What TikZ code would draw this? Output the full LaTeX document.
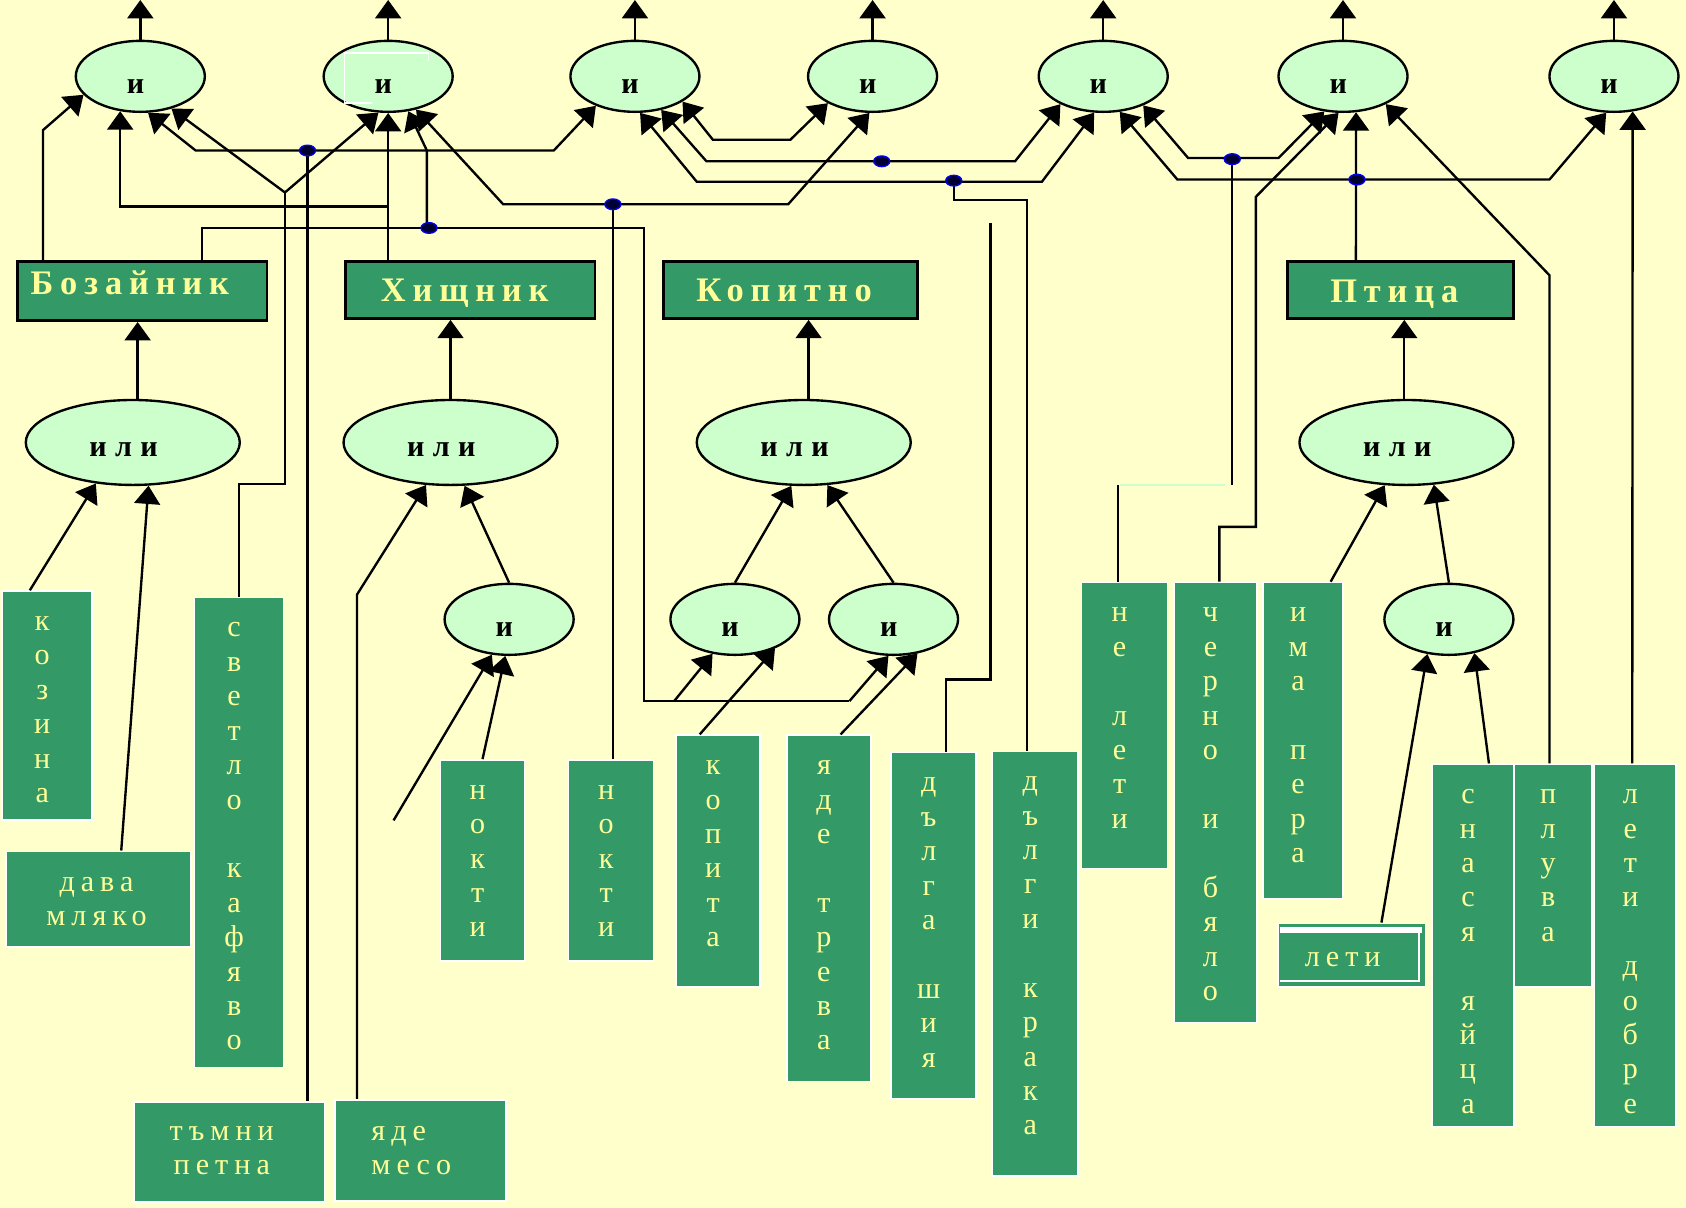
\documentclass[tikz,border=0pt]{standalone}
\usepackage{fontspec}
\setmainfont{Liberation Serif}
\newfontfamily\lsfam[LetterSpace=20]{Liberation Serif}
\newfontfamily\gsfam[LetterSpace=28]{Liberation Serif}
\usetikzlibrary{arrows.meta,shapes.geometric}
\definecolor{bgyellow}{HTML}{FFFFCC}
\definecolor{gatefill}{HTML}{CCFFCC}
\definecolor{boxgreen}{HTML}{339966}
\definecolor{txtyellow}{HTML}{FFFF99}
\definecolor{dotfill}{HTML}{000033}
\newcommand\mgF{\bfseries\fontsize{28}{32}\selectfont}
\newcommand\mgS{\gsfam\bfseries\fontsize{28}{32}\selectfont}
\newcommand\mcF{\lsfam\bfseries\fontsize{32}{38}\selectfont}
\newcommand\mlF{\fontsize{28}{32}\selectfont}
\newcommand\mlS{\lsfam\fontsize{28}{32}\selectfont}
\newcommand\mkbox[6]{\pgfmathsetmacro\mkbw{#5-#3}\pgfmathsetmacro\mkbh{#6-#4}%
  \node[#1, anchor=north west, minimum width=\mkbw pt, minimum height=\mkbh pt] (#2) at (#3,#4) {};}
\newcommand\mkvt[3]{\node[vtxt, anchor=north] (#2) at ([xshift=-4.5pt,yshift=-14.8pt]#1.north) {#3};}
\tikzset{
 conn/.style={line width=2.2pt, draw=black},
 arr/.style={conn, -{Triangle[length=17pt,width=24pt]}},
 barr/.style={conn, {Triangle[length=17pt,width=24pt]}-{Triangle[length=17pt,width=24pt]}},
 gate/.style={ellipse, draw=black, line width=2.2pt, fill=gatefill, inner sep=0pt},
 andgate/.style={gate, minimum width=120pt, minimum height=66pt},
 orgate/.style={gate, minimum width=199pt, minimum height=79pt},
 catbox/.style={rectangle, draw=black, line width=2.5pt, fill=boxgreen, inner sep=0pt},
 leafbox/.style={rectangle, draw=white, line width=1.5pt, fill=boxgreen, inner sep=0pt},
 andtxt/.style={font=\mgF, text=black, anchor=base, inner sep=0pt},
 ortxt/.style={font=\mgS, text=black, anchor=base, inner sep=0pt},
 cattxt/.style={font=\mcF, text=txtyellow, anchor=base, inner sep=0pt},
 vtxt/.style={font=\mlF, text=txtyellow, align=center, inner sep=0pt},
 htxt/.style={font=\mlS, text=txtyellow, inner sep=0pt},
 jdot/.style={ellipse, draw=blue, line width=1.2pt, fill=dotfill, minimum width=15pt, minimum height=10pt, inner sep=0pt},
}
\begin{document}
\begin{tikzpicture}[x=1pt,y=-1pt]
\fill[bgyellow] (0,0) rectangle (1568,1123);
\useasboundingbox (0,0) rectangle (1568,1123);

% ---------- gates ----------
\node[andgate] (e1) at (130.5,71) {};
\node[andgate] (e2) at (361,71) {};
\node[andgate] (e3) at (590.5,71) {};
\node[andgate] (e4) at (811.5,71) {};
\node[andgate] (e5) at (1026,71) {};
\node[andgate] (e6) at (1249,71) {};
\node[andgate] (e7) at (1501,71) {};
\node[orgate] (o1) at (123.5,411.5) {};
\node[orgate] (o2) at (419,411.5) {};
\node[orgate] (o3) at (747.5,411.5) {};
\node[orgate] (o4) at (1308,411.5) {};
\node[andgate] (a1) at (473.5,576) {};
\node[andgate] (a2) at (683.5,576) {};
\node[andgate] (a3) at (831,576) {};
\node[andgate] (a4) at (1347.5,576) {};
\foreach \n in {e1,e2,e3,e4,e5,e6,e7,a1,a2,a3,a4}
  \node[andtxt] (\n-t) at ([xshift=-4.5pt,yshift=-16pt]\n.center) {и};
\foreach \n in {o1,o2,o3,o4}
  \node[ortxt] (\n-t) at ([xshift=-8.5pt,yshift=-13pt]\n.center) {или};
% white artefact inside e2
\draw[white, line width=1.5pt] (398.5,57) -- (398.5,49.5) -- (320.5,49.5) -- (320.5,96) -- (345.5,96);

% ---------- category boxes ----------
\mkbox{catbox}{boz}{15}{242}{247}{297}
\mkbox{catbox}{hish}{320}{242}{552}{295}
\mkbox{catbox}{kop}{616}{242}{852}{295}
\mkbox{catbox}{pt}{1196}{242}{1406}{295}
\node[cattxt] (boz-t) at ([xshift=-11.5pt,yshift=-3.5pt]boz.center) {Бозайник};
\node[cattxt] (hish-t) at ([xshift=-5pt,yshift=-10.5pt]hish.center) {Хищник};
\node[cattxt] (kop-t) at ([xshift=-6pt,yshift=-10.5pt]kop.center) {Копитно};
\node[cattxt] (pt-t) at ([xshift=-5.5pt,yshift=-11.5pt]pt.center) {Птица};

% ---------- leaf boxes ----------
\mkbox{leafbox}{kozina}{1}{549}{85}{762}
\mkbox{leafbox}{dm}{5}{791}{177}{880}
\mkbox{leafbox}{sk}{180}{555}{263}{992}
\mkbox{leafbox}{tp}{124}{1024}{301}{1117}
\mkbox{leafbox}{ym}{311}{1022}{470}{1116}
\mkbox{leafbox}{nokti1}{409}{706}{487}{893}
\mkbox{leafbox}{nokti2}{528}{706}{607}{893}
\mkbox{leafbox}{kopita}{628}{683}{706}{917}
\mkbox{leafbox}{yt}{731}{683}{809}{1005}
\mkbox{leafbox}{ds}{828}{699}{907}{1021}
\mkbox{leafbox}{dk}{922}{698}{1002}{1093}
\mkbox{leafbox}{nl}{1005}{541}{1085}{807}
\mkbox{leafbox}{cb}{1091}{541}{1168}{950}
\mkbox{leafbox}{ip}{1174}{541}{1248}{835}
\mkbox{leafbox}{leti}{1188}{858}{1325}{917}
\mkbox{leafbox}{sn}{1331}{710}{1407}{1047}
\mkbox{leafbox}{pl}{1407}{710}{1480}{917}
\mkbox{leafbox}{ld}{1482}{710}{1558}{1047}
\draw[white, line width=5pt] (1190,865) -- (1322,865);
\draw[white, line width=2pt] (1320,865) -- (1320,912) -- (1190,912);

\mkvt{kozina}{kozina-t}{\strut к\\о\\з\\и\\н\\а\strut}
\mkvt{sk}{sk-t}{\strut с\\в\\е\\т\\л\\о\\~\\к\\а\\ф\\я\\в\\о\strut}
\mkvt{nokti1}{nokti1-t}{\strut н\\о\\к\\т\\и\strut}
\mkvt{nokti2}{nokti2-t}{\strut н\\о\\к\\т\\и\strut}
\mkvt{kopita}{kopita-t}{\strut к\\о\\п\\и\\т\\а\strut}
\mkvt{yt}{yt-t}{\strut я\\д\\е\\~\\т\\р\\е\\в\\а\strut}
\mkvt{ds}{ds-t}{\strut д\\ъ\\л\\г\\а\\~\\ш\\и\\я\strut}
\mkvt{dk}{dk-t}{\strut д\\ъ\\л\\г\\и\\~\\к\\р\\а\\к\\а\strut}
\mkvt{nl}{nl-t}{\strut н\\е\\~\\л\\е\\т\\и\strut}
\mkvt{cb}{cb-t}{\strut ч\\е\\р\\н\\о\\~\\и\\~\\б\\я\\л\\о\strut}
\mkvt{ip}{ip-t}{\strut и\\м\\а\\~\\п\\е\\р\\а\strut}
\mkvt{sn}{sn-t}{\strut с\\н\\а\\с\\я\\~\\я\\й\\ц\\а\strut}
\mkvt{pl}{pl-t}{\strut п\\л\\у\\в\\а\strut}
\mkvt{ld}{ld-t}{\strut л\\е\\т\\и\\~\\д\\о\\б\\р\\е\strut}
\node[htxt, align=center] (dm-t) at ([xshift=-2pt,yshift=-2.1pt]dm.center) {\strut дава\\мляко\strut};
\node[htxt, align=center] (tp-t) at ([xshift=-7pt,yshift=0.9pt]tp.center) {\strut тъмни\\петна\strut};
\node[htxt, align=left, anchor=west] (ym-t) at ([xshift=-46pt,yshift=-0.6pt]ym.center) {\strut яде\\месо\strut};
\node[htxt, anchor=base] (leti-t) at ([xshift=-8.5pt,yshift=-10.5pt]leti.center) {лети};

\coordinate (free1) at (366,763);
\coordinate (free2) at (921,207);

% ---------- top outputs ----------
\foreach \n in {e1,e2,e3,e4,e5,e6,e7}
  \draw[arr] (\n.north) -- (\n.north |- 0,0);

% ---------- Бозайник ----------
\draw[arr] ([xshift=25pt]boz.north west) -- (40,121) -- (e1.198);
\draw[arr] (o1.north -| 128,0) -- (boz.south -| 128,0);
\draw[conn] ([xshift=173pt]boz.north west) -- (188,212) -- (599,212) -- (599,652) -- (790,652);
\draw[arr] (790,652) -- (a3.262);
\draw[arr] (627,652) -- (a2.237);
\draw[arr] (397,212) -- (397,140) -- (e2.300);
\draw[arr] ([xshift=-16pt]kozina.north) -- (o1.228);
\draw[arr] ([xshift=21pt]dm.north) -- (o1.290);

% ---------- Хищник ----------
\draw[arr] (hish.north -| e2.south) -- (e2.south);
\draw[arr] (hish.north -| e2.south) -- (361,192) -| (e1.240);
\draw[arr] (o2.north) -- (o2.north |- hish.south);
\draw[arr] (ym.north -| 332,0) -- (332,553) -- (o2.240);
\draw[arr] (a1.north) -- (o2.288);
\draw[arr] (free1) -- (a1.244);
\draw[arr] (nokti1.north) -- (a1.264);

% ---------- тъмни петна / светло кафяво ----------
\draw[conn] (tp.north -| 286,0) -- (286,140);
\draw[barr] (e1.282) -- (182,140) -- (515,140) -- (e3.217);
\draw[conn] (sk.north) |- (265,450) -- (265,179);
\draw[barr] (e1.314) -- (265,179) -- (e2.255);

% ---------- нокти ----------
\draw[conn] (nokti2.north -| 570,0) -- (570,190);
\draw[barr] (e2.310) -- (468,190) -- (733,190) -- (e4.265);

% ---------- e3 / e4 / e5 links ----------
\draw[barr] (e3.332) -- (663,130) -- (735,130) -- (e4.211);
\draw[barr] (e3.308) -- (657,150) -- (944,150) -- (e5.213);
\draw[conn] (dk.north -| 955,0) -- (955,186) -- (887,186) -- (887,169);
\draw[barr] (e3.278) -- (648,169) -- (969,169) -- (e5.256);
\draw[conn] (ds.north -| 880,0) -- (880,632) -- (921,632) -- (free2);

% ---------- Копитно ----------
\draw[arr] (o3.north -| 752,0) -- (kop.south -| 752,0);
\draw[arr] (a2.north) -- (o3.254);
\draw[arr] (a3.north) -- (o3.299);
\draw[arr] ([xshift=-17pt]kopita.north) -- (a2.324);
\draw[arr] ([xshift=11pt]yt.north) -- (a3.305);

% ---------- не лети / черно и бяло ----------
\draw[conn] (nl.north -| 1040,0) -- (1040,451);
\draw[conn, draw=gatefill] (1042,451) -- (1139,451);
\draw[conn] (1146,451) -- (1146,148);
\draw[barr] (e5.324) -- (1105,147) -- (1189,147) -- (e6.242);
\draw[arr] (cb.north -| 1134,0) -- (1134,490) -- (1168,490) -- (1168,183) -- (e6.263);

% ---------- Птица ----------
\draw[arr] (pt.north -| 1261,0) -- (e6.290);
\draw[barr] (e5.295) -- (1095,167) -- (1441,167) -- (e7.258);
\draw[arr] (o4.north -| 1306,0) -- (pt.south -| 1306,0);
\draw[arr] ([xshift=-12pt]ip.north east) -- (o4.243);
\draw[arr] (a4.north) -- (o4.303);
\draw[arr] ([xshift=27.5pt]leti.north) -- (a4.238);
\draw[arr] ([xshift=15pt]sn.north) -- (a4.307);
\draw[arr] (pl.north -| 1441,0) -- (1441,256) -- (e6.327);
\draw[arr] (ld.north -| 1518,0) -- (e7.298);

% ---------- junction dots ----------
\foreach \x/\y/\nm in {286/140/d1, 399/212/d2, 570/190/d3, 820/150/d4, 887/168/d5, 1146/148/d6, 1262/167/d7}
  \node[jdot] (\nm) at (\x,\y) {};
\end{tikzpicture}
\end{document}
